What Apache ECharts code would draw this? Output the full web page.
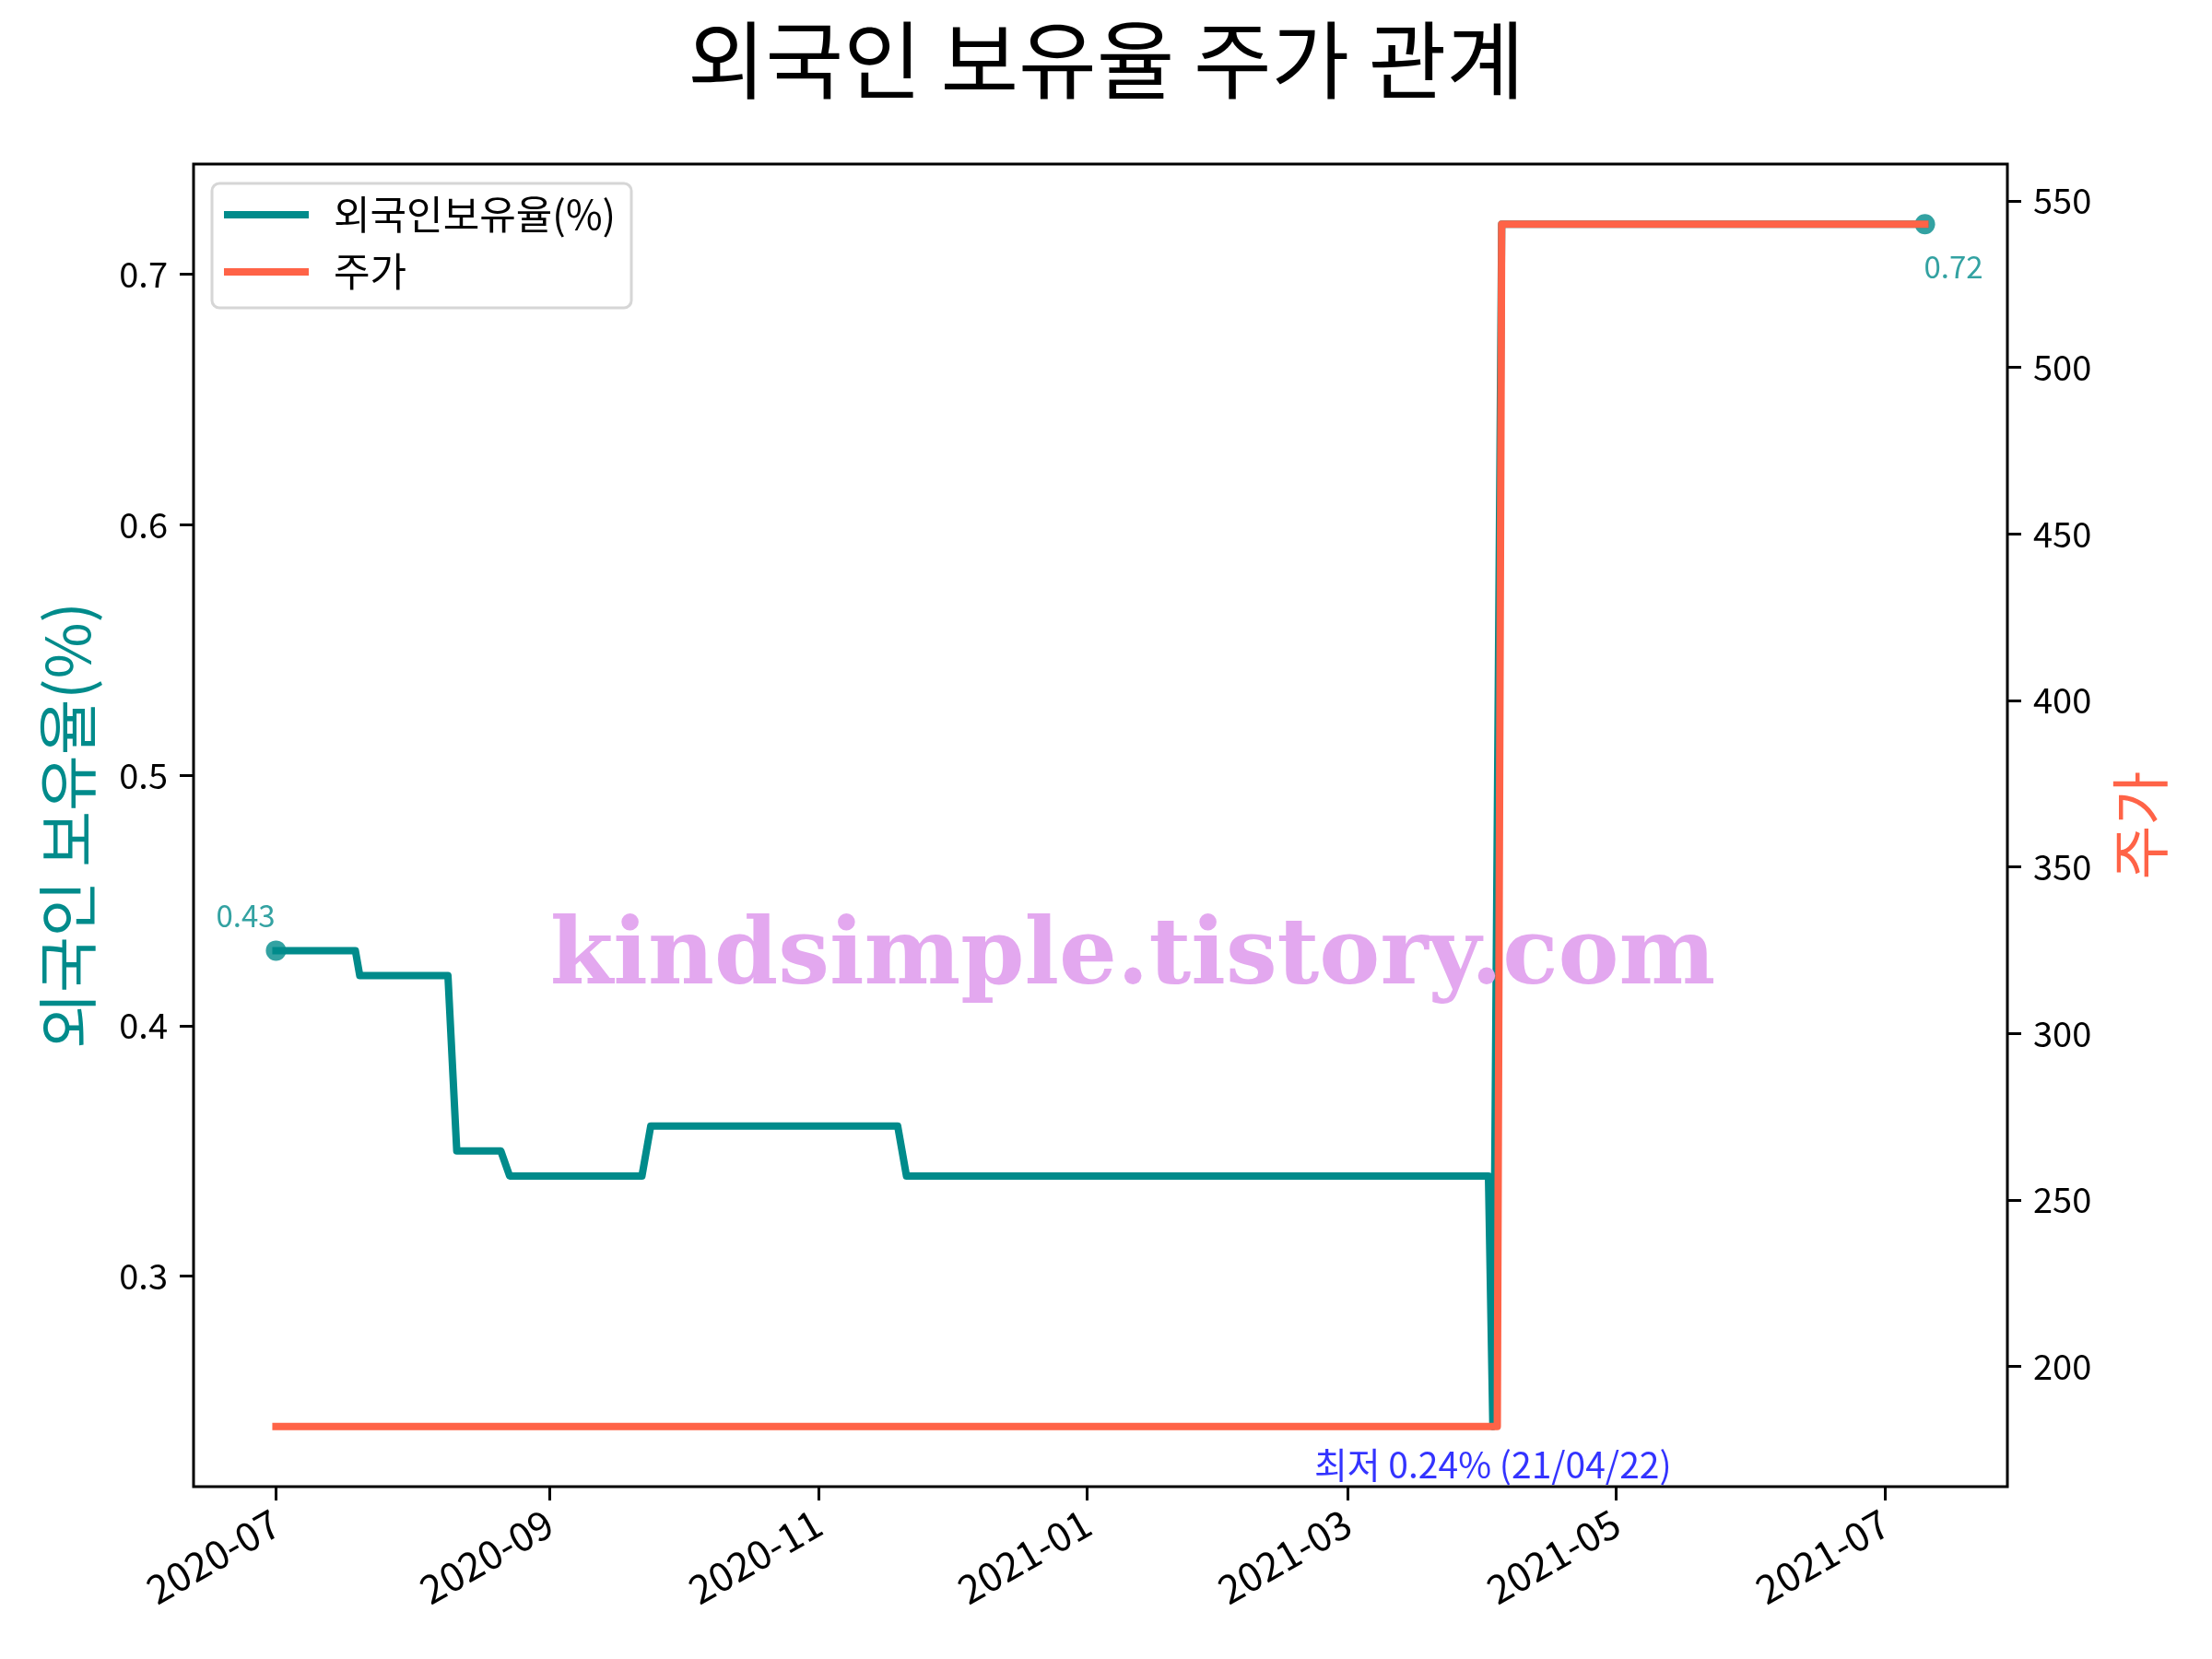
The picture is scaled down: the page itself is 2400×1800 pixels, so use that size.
<!DOCTYPE html>
<html>
<head>
<meta charset="utf-8">
<title>외국인 보유율 주가 관계</title>
<script src="https://cdn.jsdelivr.net/npm/echarts@6/dist/echarts.min.js"></script>
<style>
  html, body { margin: 0; padding: 0; background: #fff; }
  #chart { width: 2400px; height: 1800px; }
</style>
</head>
<body>
<div id="chart"></div>
<script>
// foreign ownership ratio (%), change points
const ratioDates = [
  '2020-07-01', '2020-07-19', '2020-07-20', '2020-08-09', '2020-08-11',
  '2020-08-21', '2020-08-23', '2020-09-22', '2020-09-24', '2020-11-19',
  '2020-11-21', '2021-04-02', '2021-04-03', '2021-04-05', '2021-07-10'
];
const ratioValues = [
  0.43, 0.43, 0.42, 0.42, 0.35,
  0.35, 0.34, 0.34, 0.36, 0.36,
  0.34, 0.34, 0.24, 0.72, 0.72
];

// stock price
const priceDates = ['2020-07-01', '2021-04-04', '2021-04-05', '2021-07-10'];
const priceValues = [182, 182, 543, 543];

const xTickLabels = ['2020-07', '2020-09', '2020-11', '2021-01', '2021-03', '2021-05', '2021-07'];
const leftTicks = [0.3, 0.4, 0.5, 0.6, 0.7];
const rightTicks = [200, 250, 300, 350, 400, 450, 500, 550];

const minNote = '최저 0.24% (21/04/22)';

const FONT = "'Noto Sans CJK KR', 'Noto Sans', sans-serif";
const TEAL = '#008b8b';
const TOMATO = '#ff6347';

const ts = (s) => +new Date(s + 'T00:00:00');

// matplotlib-like 5% margins
const pad = (lo, hi) => {
  const m = (hi - lo) * 0.05;
  return [lo - m, hi + m];
};

const ratioData = ratioDates.map((d, i) => [ts(d), ratioValues[i]]);
const priceData = priceDates.map((d, i) => [ts(d), priceValues[i]]);

const allX = ratioData.map(p => p[0]).concat(priceData.map(p => p[0]));
const [xMin, xMax] = pad(Math.min(...allX), Math.max(...allX));
const [y1Min, y1Max] = pad(Math.min(...ratioValues), Math.max(...ratioValues));
const [y2Min, y2Max] = pad(Math.min(...priceValues), Math.max(...priceValues));
const xTicks = xTickLabels.map(m => ts(m + '-01'));

const minIdx = ratioValues.indexOf(Math.min(...ratioValues));
const firstPt = ratioData[0];
const lastPt = ratioData[ratioData.length - 1];

const chart = echarts.init(document.getElementById('chart'));

const option = {
  animation: false,
  backgroundColor: '#fff',
  title: {
    text: '외국인 보유율 주가 관계',
    left: 'center',
    top: 14,
    textStyle: { fontSize: 92, fontWeight: 'normal', color: '#000', fontFamily: FONT }
  },
  legend: {
    data: ['외국인보유율(%)', '주가'],
    orient: 'vertical',
    left: 230,
    top: 199,
    icon: 'rect',
    itemWidth: 92,
    itemHeight: 8,
    itemGap: 14,
    padding: [10, 17, 15, 13],
    borderColor: '#d6d6d6',
    borderWidth: 3,
    borderRadius: 8,
    backgroundColor: '#fff',
    textStyle: { fontSize: 43, lineHeight: 48, color: '#000', fontFamily: FONT, padding: [0, 0, 0, 22] }
  },
  grid: {
    left: 210, right: 222, top: 178, bottom: 187,
    show: true,
    borderColor: '#000',
    borderWidth: 3,
    backgroundColor: 'transparent'
  },
  xAxis: {
    type: 'value',
    min: xMin,
    max: xMax,
    axisLine: { show: false },
    splitLine: { show: false },
    axisTick: { show: true, customValues: xTicks, length: 15, lineStyle: { color: '#000', width: 3 } },
    axisLabel: {
      customValues: xTicks,
      formatter: (v) => echarts.time.format(v, '{yyyy}-{MM}', false),
      rotate: 30,
      margin: 36,
      fontSize: 43,
      color: '#000',
      fontFamily: FONT
    }
  },
  yAxis: [
    {
      type: 'value',
      position: 'left',
      min: y1Min,
      max: y1Max,
      name: '외국인 보유율(%)',
      nameLocation: 'middle',
      nameGap: 104,
      nameRotate: 90,
      nameTextStyle: { color: TEAL, fontSize: 66, fontFamily: FONT },
      axisLine: { show: false },
      splitLine: { show: false },
      axisTick: { show: true, customValues: leftTicks, length: 15, lineStyle: { color: '#000', width: 3 } },
      axisLabel: {
        customValues: leftTicks,
        formatter: (v) => v.toFixed(1),
        margin: 28,
        fontSize: 38,
        color: '#000',
        fontFamily: FONT
      }
    },
    {
      type: 'value',
      position: 'right',
      min: y2Min,
      max: y2Max,
      name: '주가',
      nameLocation: 'middle',
      nameGap: 112,
      nameRotate: 90,
      nameTextStyle: { color: TOMATO, fontSize: 64, fontFamily: FONT },
      axisLine: { show: false },
      splitLine: { show: false },
      axisTick: { show: true, customValues: rightTicks, length: 15, lineStyle: { color: '#000', width: 3 } },
      axisLabel: {
        customValues: rightTicks,
        margin: 28,
        fontSize: 38,
        color: '#000',
        fontFamily: FONT
      }
    }
  ],
  graphic: [{
    type: 'text',
    x: 1229,
    y: 1041,
    z: 100,
    style: {
      text: 'kindsimple.tistory.com',
      fontSize: 99,
      fontWeight: 'bold',
      fontFamily: "'DejaVu Serif', serif",
      fill: '#e3a8ef',
      align: 'center',
      verticalAlign: 'middle'
    }
  }],
  series: [
    {
      name: '외국인보유율(%)',
      type: 'line',
      yAxisIndex: 0,
      data: ratioData,
      showSymbol: false,
      z: 2,
      itemStyle: { color: TEAL },
      lineStyle: { color: TEAL, width: 8, join: 'round', cap: 'square' }
    },
    {
      name: 'annotations',
      type: 'scatter',
      yAxisIndex: 0,
      z: 3,
      symbolSize: 22,
      itemStyle: { color: TEAL },
      clip: false,
      data: [
        {
          value: firstPt,
          label: { show: true, formatter: firstPt[1].toFixed(2), position: 'inside', offset: [-33, -38], color: TEAL, fontSize: 33, fontFamily: FONT }
        },
        {
          value: lastPt,
          label: { show: true, formatter: lastPt[1].toFixed(2), position: 'inside', offset: [31, 46], color: TEAL, fontSize: 33, fontFamily: FONT }
        },
        {
          value: ratioData[minIdx],
          symbolSize: 0,
          label: { show: true, formatter: minNote, position: 'inside', offset: [0, 41], color: '#0000ff', fontSize: 39, fontFamily: FONT }
        }
      ]
    },
    {
      name: '주가',
      type: 'line',
      yAxisIndex: 1,
      data: priceData,
      showSymbol: false,
      z: 4,
      itemStyle: { color: TOMATO },
      lineStyle: { color: TOMATO, width: 8, join: 'round', cap: 'square' }
    }
  ]
};

chart.setOption(option);
</script>
</body>
</html>
